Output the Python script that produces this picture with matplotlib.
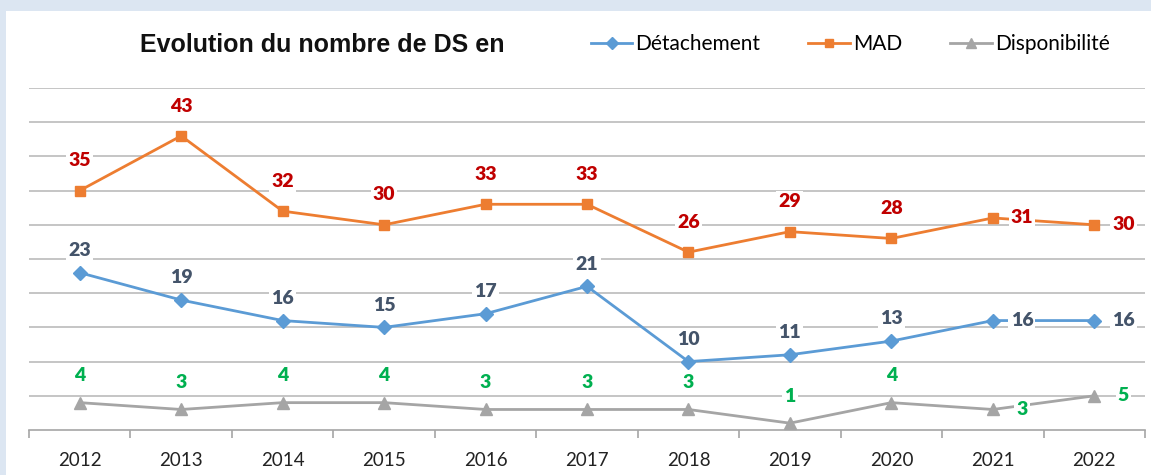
import matplotlib
matplotlib.use('Agg')
import matplotlib.pyplot as plt
from matplotlib.patches import Rectangle
from matplotlib.lines import Line2D
import numpy as np

# data
years = ['2012', '2013', '2014', '2015', '2016', '2017', '2018', '2019', '2020', '2021', '2022']
detachement = [23, 19, 16, 15, 17, 21, 10, 11, 13, 16, 16]
mad = [35, 43, 32, 30, 33, 33, 26, 29, 28, 31, 30]
disponibilite = [4, 3, 4, 4, 3, 3, 3, 1, 4, 3, 5]
title = 'Evolution du nombre de DS en'

# label placement: 'a' above, 'r' right
place_det = ['a'] * 9 + ['r', 'r']
place_mad = ['a'] * 9 + ['r', 'r']
place_dis = ['a'] * 9 + ['r', 'r']

plt.rcParams['font.family'] = ['Lato', 'DejaVu Sans']

W, H = 1151, 475
fig = plt.figure(figsize=(W / 100, H / 100), dpi=100)
fig.patch.set_facecolor('#DCE6F2')
fig.add_artist(Rectangle((6 / W, 0), 1 - 6 / W, 1 - 11 / H, transform=fig.transFigure,
                         facecolor='white', edgecolor='none', zorder=0))

ax = fig.add_axes([29 / W, (H - 430) / H, (1145 - 29) / W, (430 - 88) / H])
ax.set_facecolor('none')

x = np.arange(len(years))
series = [
    (detachement, '#5B9BD5', 'D', 7, '#44546A', place_det, 16, 'Détachement'),
    (mad, '#ED7D31', 's', 7, '#C00000', place_mad, 21.5, 'MAD'),
    (disponibilite, '#A5A5A5', '^', 8, '#00B050', place_dis, 19.5, 'Disponibilité'),
]

handles = []
for vals, col, mk, ms, lcol, place, up, name in series:
    ax.plot(x, vals, color=col, lw=2, marker=mk, ms=ms, zorder=3, clip_on=False)
    handles.append(Line2D([], [], color=col, lw=2, marker=mk, ms=ms - 1, label=name))
    for xi, v, p in zip(x, vals, place):
        if p == 'a':
            off = (0, up)
        else:
            off = (21, 0)
        ax.annotate(str(v), (xi, v), xytext=off, textcoords='offset points',
                    ha='center', va='center', fontsize=14, fontweight='heavy', color=lcol,
                    bbox=dict(facecolor='white', edgecolor='none', pad=1.5), zorder=4)

ax.set_xlim(-0.5, len(years) - 0.5)
ax.set_ylim(0, 50)
ax.set_yticks(np.arange(5, 55, 5))
ax.yaxis.grid(True, color='#BBBBBB', lw=1.2)
ax.set_axisbelow(True)
ax.tick_params(axis='y', left=False, labelleft=False)
for s in ['left', 'top', 'right']:
    ax.spines[s].set_visible(False)
ax.spines['bottom'].set_color('#A6A6A6')
ax.spines['bottom'].set_linewidth(1.2)

ax.set_xticks(x)
ax.set_xticklabels(years, fontsize=13.5, color='#222222')
ax.set_xticks(np.arange(-0.5, len(years)), minor=True)
ax.tick_params(axis='x', which='major', length=0, pad=16)
ax.tick_params(axis='x', which='minor', length=6, color='#A6A6A6', width=1.2, direction='out')

fig.text(322 / W, (H - 45) / H, title, ha='center', va='center', fontsize=18,
         fontweight='bold', family='Liberation Sans', color='#111111')

fig.legend(handles=handles, loc='center left', bbox_to_anchor=(572 / W, (H - 44) / H),
           ncol=3, frameon=False, fontsize=15, handlelength=2.0, handletextpad=0.15,
           columnspacing=2.3)

fig.savefig('out.png', dpi=100, facecolor=fig.get_facecolor())
